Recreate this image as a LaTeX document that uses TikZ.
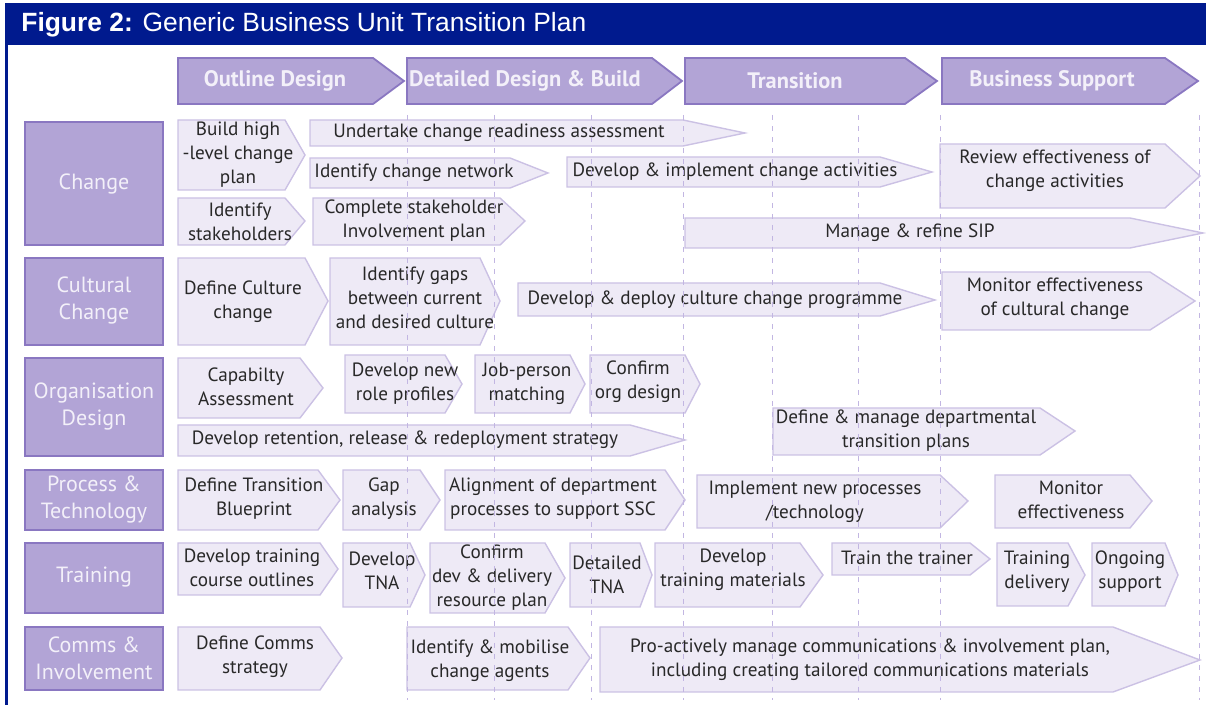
\documentclass[tikz,border=0pt]{standalone}
\usepackage{fontspec}
\setmainfont{PT Sans}
\newfontfamily\titlefont{Liberation Sans}
\definecolor{titlebar}{HTML}{001A8E}
\definecolor{lanefill}{HTML}{B2A4D6}
\definecolor{lanedraw}{HTML}{8A77C1}
\definecolor{lanetext}{HTML}{F3F0F9}
\definecolor{actfill}{HTML}{EEEAF6}
\definecolor{actdraw}{HTML}{CBC1E4}
\definecolor{inkgray}{HTML}{282828}
\definecolor{gridline}{HTML}{C2B6E2}

\begin{document}
\begin{tikzpicture}[x=0.5pt,y=-0.5pt]
    \tikzstyle{stage}=[fill=lanefill,draw=lanedraw,line width=0.9pt,line join=miter];
    \tikzstyle{stagetext}=[text=lanetext,font=\fontsize{11.2}{13}\selectfont\bfseries,inner sep=0];
    \tikzstyle{lane}=[fill=lanefill,draw=lanedraw,line width=1pt];
    \tikzstyle{lanetext}=[text=lanetext,font=\fontsize{11}{13.5}\selectfont,align=center,inner sep=0];
    \tikzstyle{act}=[fill=actfill,draw=actdraw,line width=0.7pt];
    \tikzstyle{acttext}=[text=inkgray,font=\fontsize{9.6}{12}\selectfont,align=center,inner sep=0];
    \tikzstyle{grid}=[draw=gridline,line width=0.5pt,dash pattern=on 2.5pt off 3pt];

    \useasboundingbox (0,0) rectangle (1206,705);

    % title bar and left rule
    \fill[titlebar] (5,3) rectangle (1206,45);
    \fill[titlebar] (5,45) rectangle (8,705);
    \node[anchor=west,text=white,inner sep=0,font=\titlefont\fontsize{13.2}{15}\selectfont]
        (title) at (21,25) {\textbf{Figure 2:} Generic Business Unit Transition Plan};

    % phases along the top
    \draw[stage] (178,58) -- (373,58) -- (404,81) -- (373,104) -- (178,104) -- cycle
        node[stagetext] (outline) at (275,81) {Outline Design};
    \draw[stage] (407,58) -- (652,58) -- (682,81) -- (652,104) -- (407,104) -- cycle
        node[stagetext] (detailed) at (525,81) {Detailed Design \& Build};
    \draw[stage] (685,58) -- (905,58) -- (937,81) -- (905,104) -- (685,104) -- cycle
        node[stagetext] (transition) at (795,81) {Transition};
    \draw[stage] (942,58) -- (1165,58) -- (1198,81) -- (1165,104) -- (942,104) -- cycle
        node[stagetext] (support) at (1052,81) {Business Support};

    % workstreams down the left
    \draw[lane] (25,122) rectangle (163,245) node[lanetext] (change) at (94,184) {Change};
    \draw[lane] (25,258) rectangle (163,345) node[lanetext] (culture) at (94,301) {Cultural\\Change};
    \draw[lane] (25,358) rectangle (163,456) node[lanetext] (org) at (94,407) {Organisation\\Design};
    \draw[lane] (25,470) rectangle (163,530) node[lanetext] (process) at (94,500) {Process \&\\Technology};
    \draw[lane] (25,543) rectangle (163,613) node[lanetext] (training) at (94,577) {Training};
    \draw[lane] (25,627) rectangle (163,690) node[lanetext] (comms) at (94,658) {Comms \&\\Involvement};

    % change
    \draw[act] (178,120) -- (285,120) -- (305,155) -- (285,190) -- (178,190) -- cycle
        node[acttext] (hlplan) at (238,155) {Build high\\-level change\\plan};
    \draw[act] (310,120) -- (683,120) -- (745,133) -- (683,146) -- (310,146) -- cycle
        node[acttext] (readiness) at (499,133) {Undertake change readiness assessment};
    \draw[act] (310,158) -- (510,158) -- (548,173) -- (510,188) -- (310,188) -- cycle
        node[acttext] (network) at (414,173) {Identify change network};
    \draw[act] (567,157) -- (880,157) -- (932,172) -- (880,187) -- (567,187) -- cycle
        node[acttext] (implement) at (735,172) {Develop \& implement change activities};
    \draw[act] (940,144) -- (1165,144) -- (1200,176) -- (1165,208) -- (940,208) -- cycle
        node[acttext] (review) at (1055,171) {Review effectiveness of\\change activities};
    \draw[act] (178,198) -- (285,198) -- (305,221) -- (285,245) -- (178,245) -- cycle
        node[acttext] (stakeholders) at (240,222) {Identify\\stakeholders};
    \draw[act] (313,198) -- (500,198) -- (525,221) -- (500,245) -- (313,245) -- cycle
        node[acttext] (involveplan) at (414,221) {Complete stakeholder\\Involvement plan};
    \draw[act] (685,218) -- (1130,218) -- (1203,233) -- (1130,248) -- (685,248) -- cycle
        node[acttext] (sip) at (910,233) {Manage \& refine SIP};

    % cultural change
    \draw[act] (178,258) -- (305,258) -- (328,301) -- (305,345) -- (178,345) -- cycle
        node[acttext] (defculture) at (243,302) {Define Culture\\change};
    \draw[act] (330,258) -- (480,258) -- (500,301) -- (480,345) -- (330,345) -- cycle
        node[acttext] (gaps) at (415,298) {Identify gaps\\between current\\and desired culture};
    \draw[act] (518,283) -- (880,283) -- (935,300) -- (880,316) -- (518,316) -- cycle
        node[acttext] (deploy) at (715,300) {Develop \& deploy culture change programme};
    \draw[act] (942,272) -- (1150,272) -- (1195,301) -- (1150,330) -- (942,330) -- cycle
        node[acttext] (monculture) at (1055,299) {Monitor effectiveness\\of cultural change};

    % organisation design
    \draw[act] (178,358) -- (300,358) -- (323,388) -- (300,418) -- (178,418) -- cycle
        node[acttext] (capability) at (246,387) {Capabilty\\Assessment};
    \draw[act] (345,355) -- (445,355) -- (462,384) -- (445,413) -- (345,413) -- cycle
        node[acttext] (roles) at (405,384) {Develop new\\role profiles};
    \draw[act] (475,355) -- (570,355) -- (585,384) -- (570,413) -- (475,413) -- cycle
        node[acttext] (matching) at (527,384) {Job-person\\matching};
    \draw[act] (590,355) -- (685,355) -- (700,384) -- (685,413) -- (590,413) -- cycle
        node[acttext] (orgdesign) at (638,382) {Confirm\\org design};
    \draw[act] (178,425) -- (630,425) -- (685,440) -- (630,456) -- (178,456) -- cycle
        node[acttext] (retention) at (405,440) {Develop retention, release \& redeployment strategy};
    \draw[act] (773,408) -- (1040,408) -- (1075,431) -- (1040,455) -- (773,455) -- cycle
        node[acttext] (deptplans) at (906,431) {Define \& manage departmental\\transition plans};

    % process & technology
    \draw[act] (178,470) -- (318,470) -- (340,500) -- (318,530) -- (178,530) -- cycle
        node[acttext] (blueprint) at (254,499) {Define Transition\\Blueprint};
    \draw[act] (343,470) -- (420,470) -- (440,500) -- (420,530) -- (343,530) -- cycle
        node[acttext] (gapan) at (384,499) {Gap\\analysis};
    \draw[act] (445,470) -- (665,470) -- (685,500) -- (665,530) -- (445,530) -- cycle
        node[acttext] (alignment) at (553,499) {Alignment of department\\processes to support SSC};
    \draw[act] (697,475) -- (940,475) -- (968,501) -- (940,528) -- (697,528) -- cycle
        node[acttext] (newproc) at (815,502) {Implement new processes\\/technology};
    \draw[act] (995,475) -- (1130,475) -- (1152,501) -- (1130,528) -- (995,528) -- cycle
        node[acttext] (monproc) at (1071,500) {Monitor\\effectiveness};

    % training
    \draw[act] (178,543) -- (320,543) -- (338,569) -- (320,595) -- (178,595) -- cycle
        node[acttext] (outlines) at (252,568) {Develop training\\course outlines};
    \draw[act] (343,543) -- (410,543) -- (425,575) -- (410,607) -- (343,607) -- cycle
        node[acttext] (tna) at (382,571) {Develop\\TNA};
    \draw[act] (430,543) -- (545,543) -- (565,578) -- (545,613) -- (430,613) -- cycle
        node[acttext] (resplan) at (492,578) {Confirm\\dev \& delivery\\resource plan};
    \draw[act] (570,543) -- (640,543) -- (652,575) -- (640,607) -- (570,607) -- cycle
        node[acttext] (dettna) at (607,575) {Detailed\\TNA};
    \draw[act] (655,543) -- (800,543) -- (823,575) -- (800,607) -- (655,607) -- cycle
        node[acttext] (materials) at (733,570) {Develop\\training materials};
    \draw[act] (832,543) -- (970,543) -- (990,559) -- (970,575) -- (832,575) -- cycle
        node[acttext] (trainer) at (907,558) {Train the trainer};
    \draw[act] (997,543) -- (1068,543) -- (1085,575) -- (1068,606) -- (997,606) -- cycle
        node[acttext] (delivery) at (1037,572) {Training\\delivery};
    \draw[act] (1092,543) -- (1165,543) -- (1178,575) -- (1165,606) -- (1092,606) -- cycle
        node[acttext] (ongoing) at (1130,572) {Ongoing\\support};

    % comms & involvement
    \draw[act] (178,627) -- (320,627) -- (342,658) -- (320,690) -- (178,690) -- cycle
        node[acttext] (commsstrat) at (255,657) {Define Comms\\strategy};
    \draw[act] (407,627) -- (568,627) -- (590,658) -- (568,690) -- (407,690) -- cycle
        node[acttext] (agents) at (490,661) {Identify \& mobilise\\change agents};
    \draw[act] (600,627) -- (1113,627) -- (1200,660) -- (1113,692) -- (600,692) -- cycle
        node[acttext] (proactive) at (870,660) {Pro-actively manage communications \& involvement plan,\\including creating tailored communications materials};

    % time markers over the activities
    \draw[grid] (407,115) -- (407,700) (494,115) -- (494,700) (591,115) -- (591,700)
        (683,115) -- (683,700) (772,115) -- (772,700) (858,115) -- (858,700)
        (940,115) -- (940,700) (1199,115) -- (1199,700);
\end{tikzpicture}
\end{document}
